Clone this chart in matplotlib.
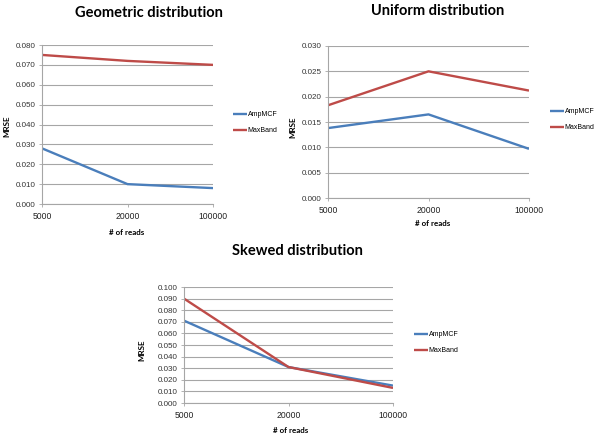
import matplotlib
matplotlib.use("Agg")
import matplotlib.pyplot as plt

reads = ["5000", "20000", "100000"]
series_names = ["AmpMCF", "MaxBand"]

geo_amp = [0.028, 0.010, 0.008]
geo_max = [0.075, 0.072, 0.070]
uni_amp = [0.0138, 0.0165, 0.0097]
uni_max = [0.0183, 0.0250, 0.0212]
skw_amp = [0.071, 0.031, 0.015]
skw_max = [0.090, 0.031, 0.013]

titles = ["Geometric distribution", "Uniform distribution", "Skewed distribution"]
colors = ["#4A7EBB", "#BE4B48"]

W, H = 600, 436
fig = plt.figure(figsize=(6, 4.36), dpi=100)
fig.patch.set_facecolor("white")

def px_axes(x0, ytop, x1, ybot):
    return fig.add_axes([x0 / W, 1 - ybot / H, (x1 - x0) / W, (ybot - ytop) / H])

panels = [
    dict(box=(42, 45, 213, 204), amp=geo_amp, mx=geo_max, ymax=0.080, step=0.010, fmt="{:.3f}",
         title=(149, 13), xlab=(127, 232), ylab=(7, 126), leg=(233, 111)),
    dict(box=(328, 46, 529, 198), amp=uni_amp, mx=uni_max, ymax=0.030, step=0.005, fmt="{:.3f}",
         title=(438, 11), xlab=(433, 223), ylab=(293, 127), leg=(550, 108)),
    dict(box=(184, 287, 393, 403), amp=skw_amp, mx=skw_max, ymax=0.100, step=0.010, fmt="{:.3f}",
         title=(297, 251), xlab=(291, 430), ylab=(142, 350), leg=(414, 331)),
]

tickfont = "Liberation Sans"
for p, title in zip(panels, titles):
    ax = px_axes(*p["box"])
    xs = list(range(len(reads)))
    l1, = ax.plot(xs, p["amp"], color=colors[0], lw=1.7, label=series_names[0], solid_capstyle="butt")
    l2, = ax.plot(xs, p["mx"], color=colors[1], lw=1.7, label=series_names[1], solid_capstyle="butt")
    ax.set_xlim(0, 2)
    ax.set_ylim(0, p["ymax"])
    n = int(round(p["ymax"] / p["step"]))
    yt = [i * p["step"] for i in range(n + 1)]
    ax.set_yticks(yt)
    ax.set_yticklabels([p["fmt"].format(v) for v in yt], fontsize=5.8, family=tickfont, color="#333333")
    ax.set_xticks(xs)
    ax.set_xticklabels(reads, fontsize=6.2, family=tickfont, color="#222222")
    ax.yaxis.grid(True, color="#A6A6A6", lw=0.8)
    ax.set_axisbelow(True)
    for s in ["top", "right"]:
        ax.spines[s].set_visible(False)
    ax.spines["left"].set_color("#A6A6A6")
    ax.spines["bottom"].set_color("#A6A6A6")
    ax.spines["left"].set_linewidth(0.8)
    ax.spines["bottom"].set_linewidth(0.8)
    ax.tick_params(axis="y", length=2.5, width=0.6, color="#A6A6A6", pad=2)
    ax.tick_params(axis="x", length=2.5, width=0.6, color="#A6A6A6", pad=3)
    fig.text(p["title"][0] / W, 1 - p["title"][1] / H, title, ha="center", va="center",
             fontsize=10.5, fontweight="bold", family="Lato")
    fig.text(p["xlab"][0] / W, 1 - p["xlab"][1] / H, "# of reads", ha="center", va="center",
             fontsize=5.8, fontweight="bold", family="Lato")
    fig.text(p["ylab"][0] / W, 1 - p["ylab"][1] / H, "MRSE", ha="center", va="center",
             rotation=90, fontsize=5.8, fontweight="bold", family="Lato")
    ax.legend(handles=[l1, l2], loc="upper left",
              bbox_to_anchor=(p["leg"][0] / W, 1 - p["leg"][1] / H),
              bbox_transform=fig.transFigure, frameon=False,
              prop={"family": tickfont, "size": 5}, handlelength=2.0,
              handletextpad=0.1, labelspacing=1.3, borderpad=0, borderaxespad=0)

fig.savefig("out.png", dpi=100, facecolor="white")
